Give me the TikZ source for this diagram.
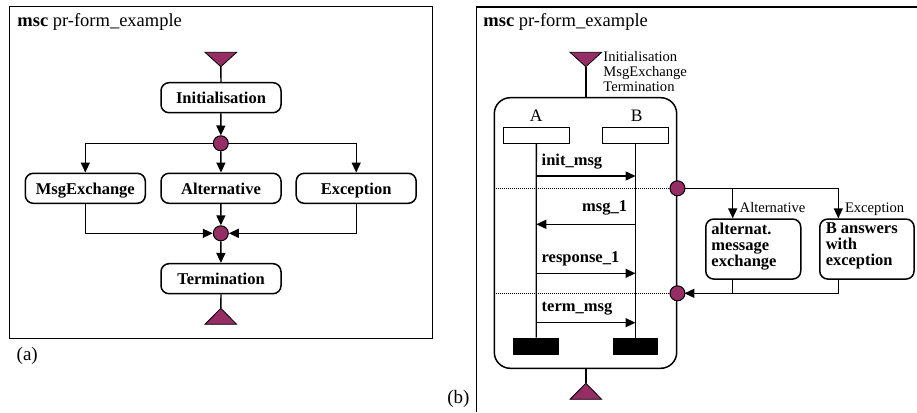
\documentclass[tikz,border=0pt]{standalone}
\usepackage{fontspec}
\setmainfont{Liberation Serif}
\usetikzlibrary{arrows.meta}
\definecolor{condfill}{RGB}{150,45,100}
\newcommand\fsz[2]{\fontsize{#1}{#2}\selectfont}

\begin{document}
\begin{tikzpicture}[x=1pt,y=-1pt,line width=1.4pt,
  arr/.style={-{Triangle[length=10pt,width=9pt]}},
  refbox/.style={draw,line width=1.5pt,rounded corners=8pt,minimum width=120pt,minimum height=30pt,
    inner sep=0pt,text height=13pt,text depth=1pt,font=\fsz{16.5}{18}\bfseries},
  cond/.style={circle,draw,line width=1pt,fill=condfill,minimum size=15pt,inner sep=0pt},
  tri/.style={draw,line width=0.8pt,fill=condfill},
  title/.style={anchor=base west,inner sep=0pt,font=\fsz{18.5}{20}},
  sublabel/.style={anchor=base west,inner sep=0pt,font=\fsz{19}{21}},
  msglabel/.style={inner sep=0pt,font=\fsz{16.5}{18}\bfseries},
  small/.style={inner sep=0pt,font=\fsz{14.6}{14.8}},
  instname/.style={anchor=base,inner sep=0pt,font=\fsz{17.5}{20}},
  instbox/.style={draw,minimum width=66pt,minimum height=15.6pt,inner sep=0pt},
  instend/.style={fill=black,minimum width=45.7pt,minimum height=16.7pt,inner sep=0pt},
  casebox/.style={draw,line width=1.5pt,rounded corners=8pt,inner sep=0pt,anchor=north west,
    font=\fsz{16.5}{16}\bfseries},
  gate/.style={line width=0.8pt,dash pattern=on 1pt off 1pt}]
\useasboundingbox (0,0) rectangle (917,412);

% ---------------- left: HMSC ----------------
\draw (9.3,6.7) rectangle (432.3,338.3);
\node[title] (ttlA) at (16.7,26.7) {\textbf{msc} pr-form\_example};

\draw[tri] (205,52.3) -- (236.7,52.3) -- (220.8,66.7) -- cycle;
\coordinate (startA) at (220.8,66.7);
\node[refbox] (init) at (221,97.7) {Initialisation};
\draw (startA) -- (init.north);

\node[refbox] (msgx) at (85.3,188.3) {MsgExchange};
\node[refbox] (alt)  at (221,188.3) {Alternative};
\node[refbox] (exc)  at (356.2,188.3) {Exception};
\node[refbox] (term) at (221,278.7) {Termination};

\draw[arr] (init) -- (220.8,135.5);
\draw[arr] (220.8,143.3) -| (msgx.north);
\draw[arr] (220.8,143.3) -| (exc.north);
\node[cond] (c1) at (220.8,143.3) {};
\draw[arr] (c1) -- (alt.north);

\node[cond] (c2) at (220.8,233.3) {};
\draw[arr] (msgx.south) |- (c2);
\draw[arr] (exc.south) |- (c2);
\draw[arr] (alt) -- (c2);
\draw[arr] (c2) -- (term);

\coordinate (endA) at (220.8,308.3);
\draw (term.south) -- (endA);
\draw[tri] (endA) -- (236.7,324.3) -- (205,324.3) -- cycle;

\node[sublabel] (capA) at (16,360) {(a)};

% ---------------- right: inline form ----------------
\draw (917,7) -- (476.7,7) -- (476.7,412);
\node[title] (ttlB) at (482.7,26.7) {\textbf{msc} pr-form\_example};

\draw[tri] (570,52.3) -- (601.7,52.3) -- (585.8,66.7) -- cycle;
\coordinate (startB) at (585.8,66.7);
\node[small,anchor=north west,align=left] (conn) at (602.7,50.6)
  {Initialisation\\MsgExchange\\Termination};

\node[draw,line width=1.5pt,rounded corners=16pt,minimum width=182.4pt,minimum height=270.6pt,
  inner sep=0pt] (inl) at (585.5,233) {};
\draw (startB) -- (startB |- inl.north);

\node[instname] (nA) at (536.3,121.7) {A};
\node[instname] (nB) at (636.7,121.7) {B};
\node[instbox] (hA) at (536.3,135.5) {};
\node[instbox] (hB) at (635.5,135.5) {};
\node[instend] (eA) at (536.2,346.7) {};
\node[instend] (eB) at (635.5,346.7) {};
\draw (hA.south) -- (eA.north);
\draw (hB.south) -- (eB.north);

\coordinate (m1) at (0,176);
\coordinate (m2) at (0,224.3);
\coordinate (m3) at (0,273.3);
\coordinate (m4) at (0,322.7);
\draw[arr] (hA.south |- m1) -- (hB.south |- m1);
\draw[arr] (hB.south |- m2) -- (hA.south |- m2);
\draw[arr] (hA.south |- m3) -- (hB.south |- m3);
\draw[arr] (hA.south |- m4) -- (hB.south |- m4);
\node[msglabel,anchor=base west] (l1) at (541,165.7) {init\_msg};
\node[msglabel,anchor=base east] (l2) at (627.7,211.7) {msg\_1};
\node[msglabel,anchor=base west] (l3) at (541,262.3) {response\_1};
\node[msglabel,anchor=base west] (l4) at (541,311.7) {term\_msg};

\coordinate (g1) at (0,188.3);
\coordinate (g2) at (0,293.3);
\coordinate (bx1) at (732.7,0);
\coordinate (bx2) at (838.3,0);

\node[casebox] (altb) at (705,218.3)
  {\parbox[c][60pt][t]{95pt}{\raggedright\leftskip=5.7pt\relax
   \vspace*{3.6pt}alternat.\\message\\exchange}};
\node[casebox] (excb) at (819,218.3)
  {\parbox[c][60pt][t]{94.3pt}{\raggedright\leftskip=6pt\relax
   \vspace*{3.6pt}B answers\\with\\exception}};

\draw[gate] (inl.west |- g1) -- (inl.east |- g1);
\draw[gate] (inl.west |- g2) -- (inl.east |- g2);
\draw (inl.east |- g1) -- (bx2 |- g1);
\draw[arr] (bx1 |- g1) -- (bx1 |- altb.north);
\draw[arr] (bx2 |- g1) -- (bx2 |- excb.north);
\draw (bx1 |- altb.south) -- (bx1 |- g2);
\draw[arr] (bx2 |- excb.south) -- (bx2 |- g2) -- (684.4,293.3);
\node[cond] (c3) at (inl.east |- g1) {};
\node[cond] (c4) at (inl.east |- g2) {};

\node[small,anchor=base west] (la) at (739,212.7) {Alternative};
\node[small,anchor=base west] (le) at (844.3,212.7) {Exception};

\coordinate (endB) at (585.8,383.3);
\draw (startB |- inl.south) -- (endB);
\draw[tri] (endB) -- (601.7,399.3) -- (570,399.3) -- cycle;

\node[sublabel] (capB) at (446.7,403) {(b)};
\end{tikzpicture}
\end{document}
